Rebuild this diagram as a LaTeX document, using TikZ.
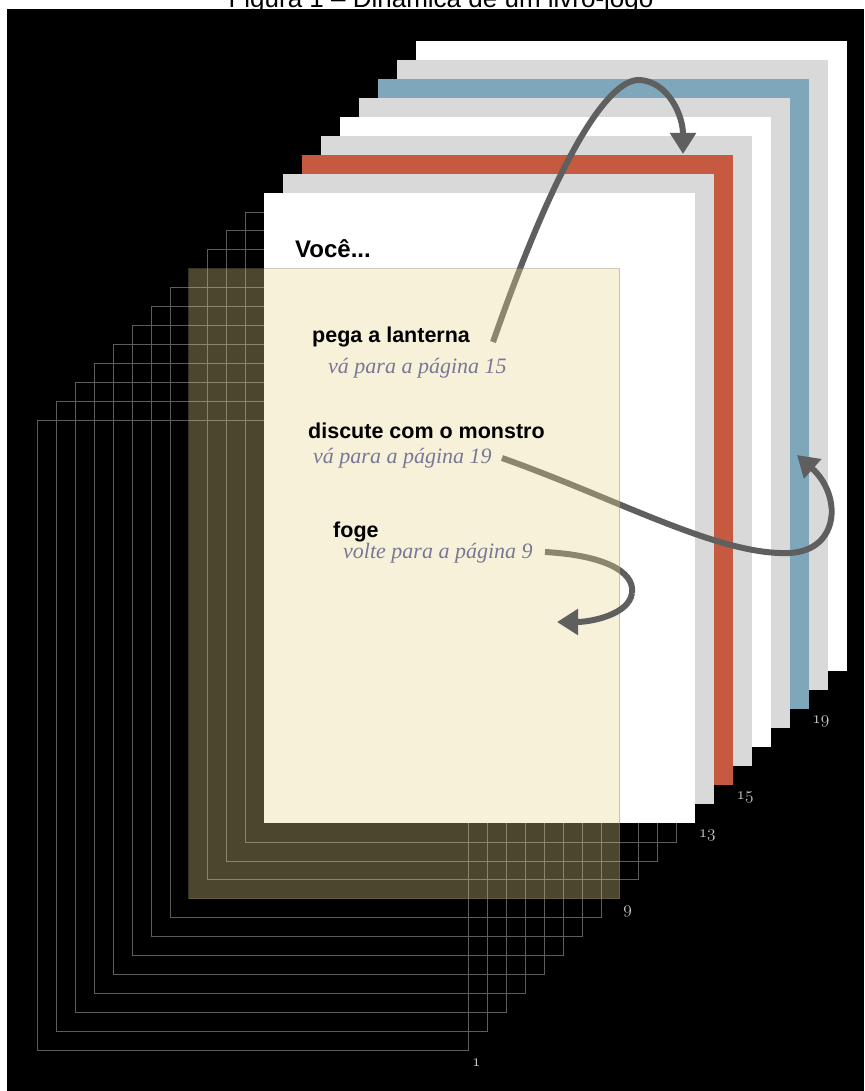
\documentclass[tikz,border=0pt]{standalone}
\usepackage{fontspec}
\setmainfont{Liberation Serif}
\setsansfont{Liberation Sans}
\usetikzlibrary{arrows.meta,positioning}
\definecolor{pagegray}{RGB}{217,217,217}
\definecolor{pagered}{RGB}{197,90,65}
\definecolor{pageblue}{RGB}{127,167,188}
\definecolor{tint9}{RGB}{233,215,145}
\definecolor{arrowgray}{RGB}{95,95,95}
\definecolor{hintblue}{RGB}{120,120,150}
\definecolor{outline}{RGB}{92,92,92}

\begin{document}
\begin{tikzpicture}[x=1pt,y=-1pt,
  page/.style={minimum width=431pt,minimum height=630pt,inner sep=0pt,anchor=north west},
  blank/.style={page,draw=outline,line width=1pt},
  sheet/.style={page,fill=#1},
  choice/.style={font=\sffamily\bfseries\fontsize{21.5}{24}\selectfont,anchor=base west,inner sep=0pt},
  goto/.style={font=\itshape\fontsize{22}{24}\selectfont,text=hintblue,anchor=base west,inner sep=0pt},
  pagenum/.style={font=\fontsize{17.28}{18}\selectfont,text=white!80!black,anchor=west,inner sep=0pt},
  jumpline/.style={draw=arrowgray,line width=6pt},
  jump/.style={jumpline,-{Triangle[length=21pt,width=25pt]}}]
  \useasboundingbox (0,0) rectangle (864,1091);
  \node[font=\sffamily\fontsize{26}{28}\selectfont,anchor=base,inner sep=0pt] (title) at (441,7.5) {Figura 1 – Dinâmica de um livro-jogo};
  \fill[black] (7,9) rectangle (864,1091);
  % empty pages in front
  \foreach \k in {1,...,8,10,11,12}
    \node[blank] (p\k) at ({37+18.93*(\k-1)},{420-18.95*(\k-1)}) {};
  % coloured pages, back to front
  \foreach \k/\c in {21/white,20/pagegray,19/pageblue,18/pagegray,17/white,16/pagegray,15/pagered,14/pagegray,13/white}
    \node[sheet=\c] (p\k) at ({37+18.93*(\k-1)},{420-18.95*(\k-1)}) {};
  % jumps
  \coordinate (from15) at (493,342);
  \coordinate (on15) at (683,154);
  \coordinate (from19) at (502,458);
  \coordinate (on19) at (797,455);
  \coordinate (from9) at (545,552);
  \coordinate (turn9) at (632,593);
  \coordinate (on9) at (557,622);
  \draw[jump] (from15) .. controls (560,150) and (610,78) .. (640,80)
    .. controls (668,82) and (683,115) .. (on15);
  \draw[jump] (from19) .. controls (620,500) and (720,556) .. (790,553)
    .. controls (840,550) and (842,495) .. (on19);
  \draw[jumpline] (from9) .. controls (600,555) and (635,570) .. (turn9);
  % page 9, see-through
  \node[page,fill=tint9,fill opacity=0.33,draw=tint9!60!black,draw opacity=0.4,line width=0.8pt] (p9) at ({37+18.93*8},{420-18.95*8}) {};
  \draw[jump] (turn9) .. controls (629,615) and (590,622) .. (on9);
  % text of page 13
  \node[choice,font=\sffamily\bfseries\fontsize{24}{26}\selectfont] (voce) at (295,257) {Você...};
  \node[choice] (lanterna) at (312,342) {pega a lanterna};
  \node[goto] (to15) at (328,373) {vá para a página 15};
  \node[choice] (monstro) at (308,438) {discute com o monstro};
  \node[goto] (to19) at (313,463) {vá para a página 19};
  \node[choice] (foge) at (333,537) {foge};
  \node[goto] (to9) at (343,558) {volte para a página 9};
  % page numbers
  \foreach \k in {1,9,13,15,19}
    \node[pagenum] at ([xshift=3pt,yshift=-12pt]p\k.south east) {$\mathnormal{\k}$};
\end{tikzpicture}
\end{document}
